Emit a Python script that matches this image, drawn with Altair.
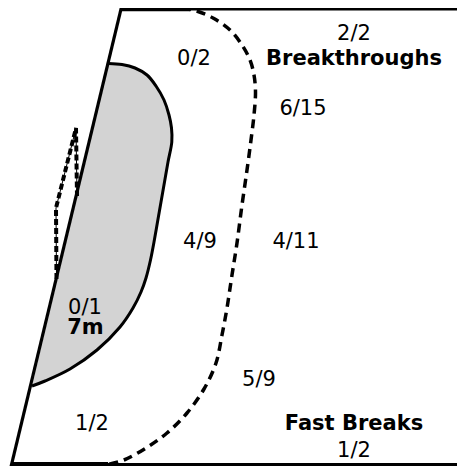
import altair as alt
import pandas as pd

# ---- Court geometry (image pixel coordinates) ----
top_x = [121, 457]
top_y = [8.6, 8.6]
top_thick_x = [121, 190]
top_thick_y = [9, 9]
bottom_x = [11, 457]
bottom_y = [465, 465]
bottom_thick_x = [11, 108]
bottom_thick_y = [465, 465]
goalline_x = [121.5, 9.5]
goalline_y = [7, 473]

# 6 m goal area outline (filled)
area_x = [108.5, 122, 135, 147, 156, 164, 169, 171.5, 171.8, 168, 164.5, 161, 157.5, 154, 150.5, 146, 141, 133, 120, 97, 70, 45, 32]
area_y = [63.5, 64.5, 68, 75, 86, 100, 115, 128, 142, 162, 182, 202, 222, 242, 260, 278, 292, 308, 327, 350, 369, 381, 386]

# 9 m free-throw line (dashed)
nine_x = [182, 195, 213, 230, 242, 250, 254, 255.5, 254, 251, 247, 242, 237, 232, 227, 222, 216, 204, 187, 167, 146, 124, 105]
nine_y = [8.5, 10.5, 18, 30, 45, 60, 75, 92, 115, 140, 170, 205, 243, 275, 308, 335, 363, 389, 413, 433, 448, 460, 465]

# goal (dashed)
goal_x = [56.5, 56, 76, 77]
goal_y = [279, 208, 128, 196]

# ---- Labels ----
lab_text = ["0/2", "2/2", "6/15", "4/9", "4/11", "0/1", "1/2", "5/9", "1/2"]
lab_x = [194, 354, 303, 200, 296, 85, 92, 259, 354]
lab_y = [65, 40, 115, 248, 248, 314, 430, 386, 457]

bold_text = ["Breakthroughs", "7m", "Fast Breaks"]
bold_x = [354, 85.5, 354]
bold_y = [65, 334, 430]

# ---- Build tables ----
segs = []
for name, xs, ys, w in [
    ("top", top_x, top_y, 3.6),
    ("top_thick", top_thick_x, top_thick_y, 4.6),
    ("bottom", bottom_x, bottom_y, 4),
    ("bottom_thick", bottom_thick_x, bottom_thick_y, 6),
    ("goalline", goalline_x, goalline_y, 3.2),
]:
    for i, (a, b) in enumerate(zip(xs, ys)):
        segs.append({"seg": name, "i": i, "x": a, "y": b, "w": w})
seg_df = pd.DataFrame(segs)

area_df = pd.DataFrame({"i": range(len(area_x)), "x": area_x, "y": area_y})
nine_df = pd.DataFrame({"i": range(len(nine_x)), "x": nine_x, "y": nine_y})
goal_df = pd.DataFrame({"i": range(len(goal_x)), "x": goal_x, "y": goal_y})
lab_df = pd.DataFrame({"t": lab_text, "x": lab_x, "y": lab_y})
bold_df = pd.DataFrame({"t": bold_text, "x": bold_x, "y": bold_y})

W, H = 449, 458
xsc = alt.Scale(domain=[8, 457], zero=False, nice=False)
ysc = alt.Scale(domain=[8, 466], zero=False, nice=False, reverse=True)
X = alt.X("x:Q", scale=xsc, axis=None)
Y = alt.Y("y:Q", scale=ysc, axis=None)

area = alt.Chart(area_df).mark_line(
    fill="#d3d3d3", stroke="black", strokeWidth=3, interpolate="catmull-rom"
).encode(x=X, y=Y, order="i:Q")

nine = alt.Chart(nine_df).mark_line(
    stroke="black", strokeWidth=3.5, strokeDash=[9, 6], interpolate="catmull-rom"
).encode(x=X, y=Y, order="i:Q")

goal_thin = alt.Chart(goal_df).mark_line(
    stroke="black", strokeWidth=1
).encode(x=X, y=Y, order="i:Q")

goal = alt.Chart(goal_df).mark_line(
    stroke="black", strokeWidth=4, strokeDash=[6, 3]
).encode(x=X, y=Y, order="i:Q")

border = alt.Chart(seg_df).mark_line(stroke="black").encode(
    x=X, y=Y, order="i:Q", detail="seg:N", size=alt.Size("w:Q", scale=None, legend=None)
)

labels = alt.Chart(lab_df).mark_text(
    font="DejaVu Sans", fontSize=21, align="center", baseline="alphabetic", color="black"
).encode(x=X, y=Y, text="t:N")

bolds = alt.Chart(bold_df).mark_text(
    font="DejaVu Sans", fontSize=21, fontWeight="bold", align="center", baseline="alphabetic", color="black"
).encode(x=X, y=Y, text="t:N")

chart = alt.layer(area, nine, goal_thin, goal, border, labels, bolds).properties(
    width=W, height=H, autosize=alt.AutoSizeParams(type="none"), padding=0
).configure_view(strokeWidth=0)

chart.save("out.html", embed_options={"renderer": "svg", "actions": False})
